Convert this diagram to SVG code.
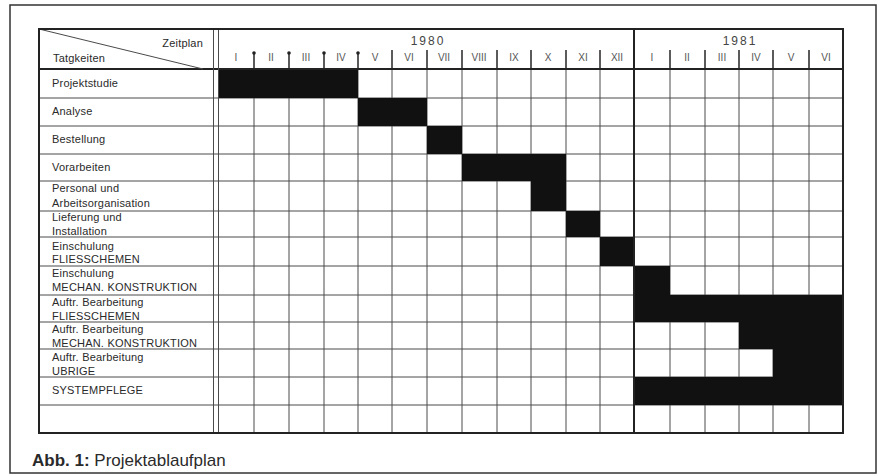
<svg xmlns="http://www.w3.org/2000/svg" width="882" height="476" viewBox="0 0 882 476">
<style>
text{font-family:"Liberation Sans",Arial,sans-serif;fill:#2a2a2a}
.lbl{font-size:11px;letter-spacing:0.2px}
.mon{font-size:10px;text-anchor:middle;fill:#555}
.yr{font-size:12px;text-anchor:middle;letter-spacing:2px;fill:#444}
.grid{stroke:#4a4a4a;stroke-width:1;fill:none}
.bold{stroke:#222;stroke-width:2;fill:none}
.bar{fill:#111}
.tick{stroke:#333;stroke-width:1.6}
</style>
<rect width="882" height="476" fill="#fff"/>
<rect x="10" y="5" width="866" height="468" fill="none" stroke="#333" stroke-width="1.5"/>

<g id="grid">
<path class="grid" d="M39 98H843M39 126H843M39 154H843M39 181H843M39 211H843M39 237H843M39 266H843M39 295H843M39 322H843M39 349H843M39 377H843M39 405H843"/>
<path class="grid" d="M254 69V433M289 69V433M324 69V433M358 69V433M392 69V433M427 69V433M462 69V433M497 69V433M531 69V433M566 69V433M600 69V433M670 69V433M705 69V433M739 69V433M773 69V433M809 69V433"/>
<path class="tick" d="M254 53V69M289 53V69M324 53V69M358 53V69M392 50V69M427 50V69M462 50V69M497 50V69M531 50V69M566 50V69M600 50V69M670 50V69M705 50V69M739 50V69M773 50V69M809 50V69"/>
<g fill="#222"><circle cx="254" cy="53" r="1.8"/><circle cx="289" cy="53" r="1.8"/><circle cx="324" cy="53" r="1.8"/><circle cx="358" cy="53" r="1.8"/></g>
</g>

<g id="bars">
<rect class="bar" x="218" y="69" width="140" height="29"/>
<rect class="bar" x="358" y="98" width="69" height="28"/>
<rect class="bar" x="427" y="126" width="35" height="28"/>
<rect class="bar" x="462" y="154" width="104" height="27"/>
<rect class="bar" x="531" y="181" width="35" height="30"/>
<rect class="bar" x="566" y="211" width="34" height="26"/>
<rect class="bar" x="600" y="237" width="34" height="29"/>
<rect class="bar" x="634" y="266" width="36" height="29"/>
<rect class="bar" x="634" y="295" width="209" height="27"/>
<rect class="bar" x="739" y="322" width="104" height="27"/>
<rect class="bar" x="773" y="349" width="70" height="28"/>
<rect class="bar" x="634" y="377" width="209" height="28"/>
</g>

<g id="frame">
<path class="bold" d="M39 69H843M634 29V433"/>
<path class="grid" stroke-width="1.5" d="M213.5 29V433M218.5 29V433"/>
<path class="grid" d="M39 29L203 69"/>
<rect class="bold" x="39" y="29" width="804" height="404"/>
</g>

<g id="header">
<text class="lbl" x="203" y="47" text-anchor="end">Zeitplan</text>
<text class="lbl" x="53" y="62">Tatgkeiten</text>
<text class="yr" x="428" y="45">1980</text>
<text class="yr" x="740" y="45">1981</text>
<text class="mon" x="236" y="61">I</text>
<text class="mon" x="271" y="61">II</text>
<text class="mon" x="306" y="61">III</text>
<text class="mon" x="341" y="61">IV</text>
<text class="mon" x="375" y="61">V</text>
<text class="mon" x="409" y="61">VI</text>
<text class="mon" x="444" y="61">VII</text>
<text class="mon" x="479" y="61">VIII</text>
<text class="mon" x="514" y="61">IX</text>
<text class="mon" x="548" y="61">X</text>
<text class="mon" x="583" y="61">XI</text>
<text class="mon" x="617" y="61">XII</text>
<text class="mon" x="652" y="61">I</text>
<text class="mon" x="687" y="61">II</text>
<text class="mon" x="722" y="61">III</text>
<text class="mon" x="756" y="61">IV</text>
<text class="mon" x="791" y="61">V</text>
<text class="mon" x="826" y="61">VI</text>
</g>

<g id="task-projektstudie"><text class="lbl" x="52" y="87">Projektstudie</text></g>
<g id="task-analyse"><text class="lbl" x="52" y="115">Analyse</text></g>
<g id="task-bestellung"><text class="lbl" x="52" y="143">Bestellung</text></g>
<g id="task-vorarbeiten"><text class="lbl" x="52" y="171">Vorarbeiten</text></g>
<g id="task-personal"><text class="lbl" x="52" y="192">Personal und</text><text class="lbl" x="52" y="207">Arbeitsorganisation</text></g>
<g id="task-lieferung"><text class="lbl" x="52" y="221">Lieferung und</text><text class="lbl" x="52" y="235">Installation</text></g>
<g id="task-einschulung-fliess"><text class="lbl" x="52" y="250">Einschulung</text><text class="lbl" x="52" y="263">FLIESSCHEMEN</text></g>
<g id="task-einschulung-mechan"><text class="lbl" x="52" y="277">Einschulung</text><text class="lbl" x="52" y="291">MECHAN. KONSTRUKTION</text></g>
<g id="task-auftr-fliess"><text class="lbl" x="52" y="306">Auftr. Bearbeitung</text><text class="lbl" x="52" y="320">FLIESSCHEMEN</text></g>
<g id="task-auftr-mechan"><text class="lbl" x="52" y="333">Auftr. Bearbeitung</text><text class="lbl" x="52" y="347">MECHAN. KONSTRUKTION</text></g>
<g id="task-auftr-uebrige"><text class="lbl" x="52" y="361">Auftr. Bearbeitung</text><text class="lbl" x="52" y="375">UBRIGE</text></g>
<g id="task-systempflege"><text class="lbl" x="52" y="394">SYSTEMPFLEGE</text></g>

<text x="32" y="466" font-size="17"><tspan font-weight="bold">Abb. 1:</tspan> Projektablaufplan</text>
</svg>
